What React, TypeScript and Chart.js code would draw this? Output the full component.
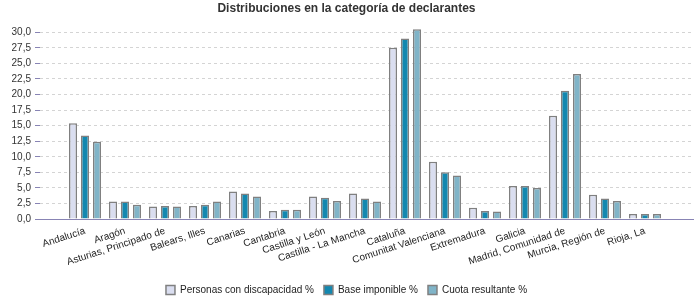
import React, { useEffect, useRef } from 'react';
import { Chart, registerables } from 'chart.js';

Chart.register(...registerables);

const chartTitle = 'Distribuciones en la categoría de declarantes';
const categories = [
  'Andalucía',
  'Aragón',
  'Asturias, Principado de',
  'Balears, Illes',
  'Canarias',
  'Cantabria',
  'Castilla y León',
  'Castilla - La Mancha',
  'Cataluña',
  'Comunitat Valenciana',
  'Extremadura',
  'Galicia',
  'Madrid, Comunidad de',
  'Murcia, Región de',
  'Rioja, La',
];
const seriesNames = ['Personas con discapacidad %', 'Base imponible %', 'Cuota resultante %'];
const personas = [15.4, 2.8, 2.0, 2.1, 4.4, 1.3, 3.6, 4.1, 27.5, 9.2, 1.8, 5.3, 16.6, 3.9, 0.8];
const baseImponible = [13.4, 2.8, 2.1, 2.3, 4.1, 1.5, 3.4, 3.3, 29.0, 7.5, 1.3, 5.3, 20.6, 3.3, 0.8];
const cuotaResultante = [12.4, 2.3, 2.0, 2.8, 3.6, 1.5, 2.9, 2.8, 30.5, 7.0, 1.2, 5.0, 23.3, 2.9, 0.8];
const yTickValues = [0, 2.5, 5, 7.5, 10, 12.5, 15, 17.5, 20, 22.5, 25, 27.5, 30];

const FONT = "'Liberation Sans', Arial, sans-serif";
const AXIS_COLOR = '#8884b4';

export default function App() {
  const ref = useRef<HTMLCanvasElement | null>(null);

  useEffect(() => {
    if (!ref.current) return;
    const toPoints = (arr: number[]) => arr.map((v, i) => ({ x: i, y: v }));
    const common = {
      borderColor: '#808080',
      borderWidth: 1.5,
      categoryPercentage: 0.9,
      barPercentage: 0.667,
    };
    const chart = new Chart(ref.current, {
      type: 'bar',
      data: {
        datasets: [
          { label: seriesNames[0], data: toPoints(personas), backgroundColor: '#dadef0', ...common },
          { label: seriesNames[1], data: toPoints(baseImponible), backgroundColor: '#1388b0', ...common },
          { label: seriesNames[2], data: toPoints(cuotaResultante), backgroundColor: '#80b4c8', ...common },
        ],
      },
      options: {
        animation: false,
        responsive: false,
        devicePixelRatio: 1,
        layout: { padding: { top: 0, left: 0, right: 7, bottom: -5 } },
        plugins: {
          tooltip: { enabled: false },
          title: {
            display: true,
            text: chartTitle,
            color: '#333333',
            font: { family: FONT, size: 12, weight: 'bold', lineHeight: 1.2 },
            padding: { top: 1, bottom: 9.6 },
          },
          legend: {
            position: 'bottom',
            labels: {
              boxWidth: 9,
              boxHeight: 9,
              padding: 10,
              color: '#222222',
              font: { family: FONT, size: 10 },
            },
          },
        },
        scales: {
          x: {
            type: 'linear',
            offset: false,
            min: -1.125,
            max: 15.2,
            grid: { display: false, offset: false },
            border: { display: true, color: AXIS_COLOR, width: 1 },
            afterBuildTicks: (scale: any) => {
              scale.ticks = categories.map((_, i) => ({ value: i }));
            },
            afterFit: (scale: any) => {
              scale.height = 56;
            },
            ticks: {
              autoSkip: false,
              minRotation: 18,
              maxRotation: 18,
              padding: -2,
              color: '#222222',
              font: { family: FONT, size: 10 },
              callback: (v: any) => categories[Math.round(Number(v))] ?? '',
            },
          },
          y: {
            type: 'linear',
            min: 0,
            max: 31.17,
            grid: {
              color: '#d4d4d4',
              drawTicks: true,
              tickLength: 5,
              tickColor: AXIS_COLOR,
              tickBorderDash: [],
            },
            border: { display: false, dash: [3, 3] },
            afterBuildTicks: (scale: any) => {
              scale.ticks = yTickValues.map((v) => ({ value: v }));
            },
            afterFit: (scale: any) => {
              scale.width = 40;
            },
            ticks: {
              padding: 4,
              color: '#333333',
              font: { family: FONT, size: 10 },
              callback: (v: any) => Number(v).toFixed(1).replace('.', ','),
            },
          },
        },
      },
    } as any);
    return () => chart.destroy();
  }, []);

  return (
    <div style={{ position: 'absolute', left: 0, top: 0, width: 700, height: 300 }}>
      <canvas ref={ref} width={700} height={300} style={{ width: 700, height: 300 }} />
    </div>
  );
}
